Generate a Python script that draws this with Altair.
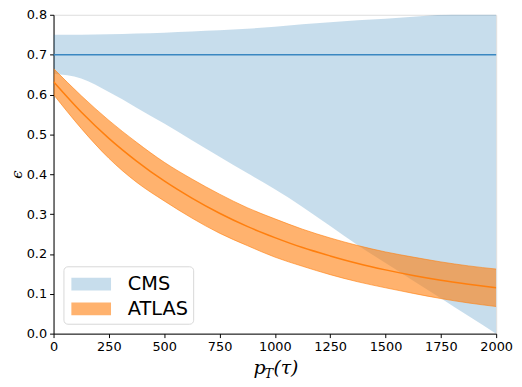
import altair as alt
import pandas as pd

# ---- data ----
pt = [0, 125, 250, 375, 500, 625, 750, 875, 1000, 1125, 1250, 1375, 1500, 1625, 1750, 1875, 2000]

cms_low = [0.652, 0.640, 0.606, 0.567, 0.527, 0.485, 0.444, 0.403, 0.362, 0.318, 0.270, 0.222, 0.177, 0.133, 0.089, 0.044, 0.0]
cms_high = [0.750, 0.750, 0.751, 0.753, 0.755, 0.758, 0.761, 0.765, 0.770, 0.776, 0.781, 0.786, 0.790, 0.795, 0.800, 0.805, 0.810]
cms_value = 0.7

atlas_mid = [0.632, 0.556, 0.490, 0.433, 0.383, 0.340, 0.302, 0.269, 0.241, 0.216, 0.195, 0.176, 0.160, 0.146, 0.134, 0.124, 0.115]
atlas_high = [0.665, 0.597, 0.535, 0.480, 0.430, 0.388, 0.350, 0.316, 0.288, 0.262, 0.240, 0.221, 0.205, 0.192, 0.180, 0.170, 0.162]
atlas_low = [0.600, 0.515, 0.440, 0.380, 0.333, 0.290, 0.252, 0.221, 0.192, 0.169, 0.148, 0.130, 0.115, 0.101, 0.088, 0.077, 0.068]

x_ticks = [0, 250, 500, 750, 1000, 1250, 1500, 1750, 2000]
y_ticks = [0.0, 0.1, 0.2, 0.3, 0.4, 0.5, 0.6, 0.7, 0.8]

cms_df = pd.DataFrame({"pt": pt, "lo": cms_low, "hi": cms_high, "exp": "CMS"})
atlas_df = pd.DataFrame({"pt": pt, "lo": atlas_low, "hi": atlas_high, "mid": atlas_mid, "exp": "ATLAS"})
band_df = pd.concat([cms_df, atlas_df], ignore_index=True)
line_df = pd.DataFrame({"pt": [0, 2000], "v": [cms_value, cms_value]})

W, H = 447, 322

xs = alt.Scale(domain=[0, 2000], nice=False, zero=False)
ys = alt.Scale(domain=[0, 0.8], nice=False, zero=False)

xaxis = alt.Axis(values=x_ticks, format="d", title=None, grid=False, labelFontSize=13,
                 labelColor="black", tickColor="black", domainColor="black", tickSize=4,
                 labelPadding=3, labelFont="DejaVu Sans", labelFlush=False)
yaxis = alt.Axis(values=y_ticks, format=".1f", title="ϵ", grid=False, labelFontSize=13,
                 labelColor="black", tickColor="black", domainColor="black", tickSize=4,
                 labelPadding=3, labelFont="DejaVu Sans", titleFont="DejaVu Serif",
                 titleFontSize=15, titleFontWeight="normal", titleColor="black",
                 titleFontStyle="italic", titleX=-37, titleY=161, titleAngle=270,
                 titleAlign="center", titleBaseline="middle")

color = alt.Color(
    "exp:N",
    scale=alt.Scale(domain=["CMS", "ATLAS"],
                    range=["rgba(31,119,180,0.25)", "rgba(255,127,14,0.6)"]),
    legend=alt.Legend(title=None, orient="bottom-left", offset=10, labelFontSize=19.5,
                      labelFont="DejaVu Sans", labelColor="black",
                      symbolType="M-0.77,-0.5H2.31V0.5H-0.77Z", symbolSize=676,
                      symbolStrokeWidth=0, rowPadding=2, labelOffset=34,
                      padding=5, strokeColor="#d8d8d8", fillColor="white",
                      cornerRadius=4, symbolOpacity=1),
)

bands = alt.Chart(band_df).mark_area(clip=True, interpolate="monotone").encode(
    x=alt.X("pt:Q", scale=xs, axis=xaxis),
    y=alt.Y("lo:Q", scale=ys, axis=yaxis),
    y2="hi:Q",
    color=color,
)

atlas_edges_hi = alt.Chart(atlas_df).mark_line(clip=True, interpolate="monotone",
                                               color="rgba(255,127,14,0.6)", strokeWidth=1).encode(
    x=alt.X("pt:Q", scale=xs), y=alt.Y("hi:Q", scale=ys))
atlas_edges_lo = alt.Chart(atlas_df).mark_line(clip=True, interpolate="monotone",
                                               color="rgba(255,127,14,0.6)", strokeWidth=1).encode(
    x=alt.X("pt:Q", scale=xs), y=alt.Y("lo:Q", scale=ys))
atlas_line = alt.Chart(atlas_df).mark_line(clip=True, interpolate="monotone",
                                           color="#ff7f0e", strokeWidth=1.5).encode(
    x=alt.X("pt:Q", scale=xs), y=alt.Y("mid:Q", scale=ys))

cms_line = alt.Chart(line_df).mark_line(color="#3a87c1", strokeWidth=1.5).encode(
    x=alt.X("pt:Q", scale=xs), y=alt.Y("v:Q", scale=ys))

# x axis title p_T(tau) built from text pieces
title_df = pd.DataFrame({"t": ["p"]})
t_p = alt.Chart(title_df).mark_text(text="p", font="DejaVu Serif", fontStyle="italic",
                                    fontSize=19, align="left", baseline="alphabetic").encode(
    x=alt.value(202), y=alt.value(363))
t_T = alt.Chart(title_df).mark_text(text="T", font="DejaVu Serif", fontStyle="italic",
                                    fontSize=13, align="left", baseline="alphabetic").encode(
    x=alt.value(213), y=alt.value(367))
t_tau = alt.Chart(title_df).mark_text(text="(τ)", font="DejaVu Serif", fontStyle="italic",
                                      fontSize=19, align="left", baseline="alphabetic").encode(
    x=alt.value(222), y=alt.value(363))

chart = alt.layer(bands, atlas_edges_hi, atlas_edges_lo, atlas_line, cms_line, t_p, t_T, t_tau).properties(
    width=W, height=H,
    autosize=alt.AutoSizeParams(type="none"),
    padding={"left": 46, "top": 5, "right": 18, "bottom": 48},
).configure_view(stroke="black", strokeWidth=1).configure(background="white")

chart.save("out.html", embed_options={"renderer": "svg", "actions": False})
